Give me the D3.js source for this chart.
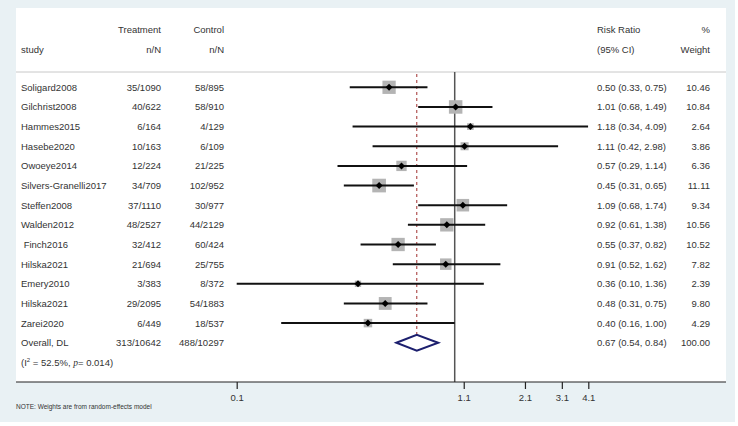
<!DOCTYPE html>
<html>
<head>
<meta charset="utf-8">
<script src="https://cdn.jsdelivr.net/npm/d3@7"></script>
<style>
  body { margin: 0; background: #fff; }
  text { font-family: Arial, "Liberation Sans", sans-serif; fill: #333; white-space: pre; }
</style>
</head>
<body>
<svg id="chart"></svg>
<script>
var studies = ["Soligard2008", "Gilchrist2008", "Hammes2015", "Hasebe2020", "Owoeye2014",
  "Silvers-Granelli2017", "Steffen2008", "Walden2012", " Finch2016", "Hilska2021",
  "Emery2010", "Hilska2021", "Zarei2020"];
var treatment = ["35/1090", "40/622", "6/164", "10/163", "12/224", "34/709", "37/1110",
  "48/2527", "32/412", "21/694", "3/383", "29/2095", "6/449"];
var control = ["58/895", "58/910", "4/129", "6/109", "21/225", "102/952", "30/977",
  "44/2129", "60/424", "25/755", "8/372", "54/1883", "18/537"];
var rr = [0.50, 1.01, 1.18, 1.11, 0.57, 0.45, 1.09, 0.92, 0.55, 0.91, 0.36, 0.48, 0.40];
var lower = [0.33, 0.68, 0.34, 0.42, 0.29, 0.31, 0.68, 0.61, 0.37, 0.52, 0.10, 0.31, 0.16];
var upper = [0.75, 1.49, 4.09, 2.98, 1.14, 0.65, 1.74, 1.38, 0.82, 1.62, 1.36, 0.75, 1.00];
var weight = [10.46, 10.84, 2.64, 3.86, 6.36, 11.11, 9.34, 10.56, 10.52, 7.82, 2.39, 9.80, 4.29];

var overall = { label: "Overall, DL", treat: "313/10642", ctrl: "488/10297",
  rr: 0.67, lo: 0.54, hi: 0.84, w: 100.00 };
var tickValues = [0.1, 1.1, 2.1, 3.1, 4.1];

var width = 738, height = 426;
var svg = d3.select("#chart").attr("width", width).attr("height", height);

// background panels
svg.append("rect").attr("x", 0).attr("y", 0).attr("width", 735).attr("height", 422)
  .attr("fill", "#e9f1f4");
svg.append("rect").attr("x", 16).attr("y", 8).attr("width", 710).attr("height", 374)
  .attr("fill", "#fff");

var x = d3.scaleLog().domain([0.1, 4.1]).range([236.7, 588.3]);
var y = d3.scaleLinear().domain([0, 1]).range([87.3, 106.95]);

var fmt = d3.format(".2f");
var fs = "9.5px";

// header
function txt(xp, yp, s, anchor) {
  return svg.append("text").attr("x", xp).attr("y", yp).attr("font-size", fs)
    .attr("text-anchor", anchor || "start").text(s);
}
txt(161, 32.5, "Treatment", "end");
txt(224, 32.5, "Control", "end");
txt(597, 32.5, "Risk Ratio");
txt(710, 32.5, "%", "end");
txt(21, 52.5, "study");
txt(161, 52.5, "n/N", "end");
txt(224, 52.5, "n/N", "end");
txt(597, 52.5, "(95% CI)");
txt(710, 52.5, "Weight", "end");

svg.append("line").attr("x1", 16).attr("x2", 726).attr("y1", 72).attr("y2", 72)
  .attr("stroke", "#c8c8c8").attr("stroke-width", 1);

// null line and overall line
svg.append("line").attr("x1", x(1)).attr("x2", x(1)).attr("y1", 72).attr("y2", 382)
  .attr("stroke", "#555").attr("stroke-width", 1.5);
svg.append("line").attr("x1", x(overall.rr)).attr("x2", x(overall.rr))
  .attr("y1", 74).attr("y2", y(13) + 8)
  .attr("stroke", "#a0302f").attr("stroke-width", 1).attr("stroke-dasharray", "3,3");

// study rows
studies.forEach(function(s, i) {
  var cy = y(i);
  txt(21, cy + 3.5, s);
  txt(161, cy + 3.5, treatment[i], "end");
  txt(224, cy + 3.5, control[i], "end");
  txt(597, cy + 3.5, fmt(rr[i]) + " (" + fmt(lower[i]) + ", " + fmt(upper[i]) + ")");
  txt(710, cy + 3.5, fmt(weight[i]), "end");

  var side = 4.1 * Math.sqrt(weight[i]);
  svg.append("rect").attr("x", x(rr[i]) - side / 2).attr("y", cy - side / 2)
    .attr("width", side).attr("height", side).attr("fill", "#b4b4b4");
  svg.append("line").attr("x1", x(lower[i])).attr("x2", x(upper[i]))
    .attr("y1", cy).attr("y2", cy).attr("stroke", "#111").attr("stroke-width", 2);
  var px = x(rr[i]);
  svg.append("path")
    .attr("d", "M" + (px - 3.5) + "," + cy + "L" + px + "," + (cy - 3.5) + "L" + (px + 3.5) + "," + cy + "L" + px + "," + (cy + 3.5) + "Z")
    .attr("fill", "#000");
});

// overall row
var oy = y(13);
txt(21, oy + 3.5, overall.label);
txt(161, oy + 3.5, overall.treat, "end");
txt(224, oy + 3.5, overall.ctrl, "end");
txt(597, oy + 3.5, fmt(overall.rr) + " (" + fmt(overall.lo) + ", " + fmt(overall.hi) + ")");
txt(710, oy + 3.5, fmt(overall.w), "end");
svg.append("path")
  .attr("d", "M" + x(overall.lo) + "," + oy + "L" + x(overall.rr) + "," + (oy - 8) +
    "L" + x(overall.hi) + "," + oy + "L" + x(overall.rr) + "," + (oy + 8) + "Z")
  .attr("fill", "#fff").attr("stroke", "#1c1f6e").attr("stroke-width", 2);

// heterogeneity
var het = svg.append("text").attr("x", 21).attr("y", y(14) + 3.5).attr("font-size", fs);
het.append("tspan").text("(I");
het.append("tspan").attr("dy", -4).attr("font-size", "6px").text("2");
het.append("tspan").attr("dy", 4).text(" = 52.5%, ");
het.append("tspan").attr("font-family", "'Liberation Serif', serif").attr("font-style", "italic").text("p");
het.append("tspan").text("= 0.014)");

// axis
svg.append("line").attr("x1", 16).attr("x2", 726).attr("y1", 382).attr("y2", 382)
  .attr("stroke", "#222").attr("stroke-width", 1.2);
var axis = svg.append("g").attr("transform", "translate(0,382)")
  .call(d3.axisBottom(x).tickValues(tickValues).tickSize(7).tickPadding(5)
    .tickFormat(d3.format(".1f")));
axis.select(".domain").remove();
axis.selectAll(".tick line").attr("stroke", "#222").attr("stroke-width", 1.2);
axis.selectAll(".tick text").attr("font-size", fs).attr("fill", "#333")
  .attr("font-family", function(d) { return d === 0.1 ? "'Liberation Serif', serif" : null; });

svg.append("text").attr("x", 16).attr("y", 409).attr("font-size", "6.5px").text("NOTE: Weights are from random-effects model");
</script>
</body>
</html>
